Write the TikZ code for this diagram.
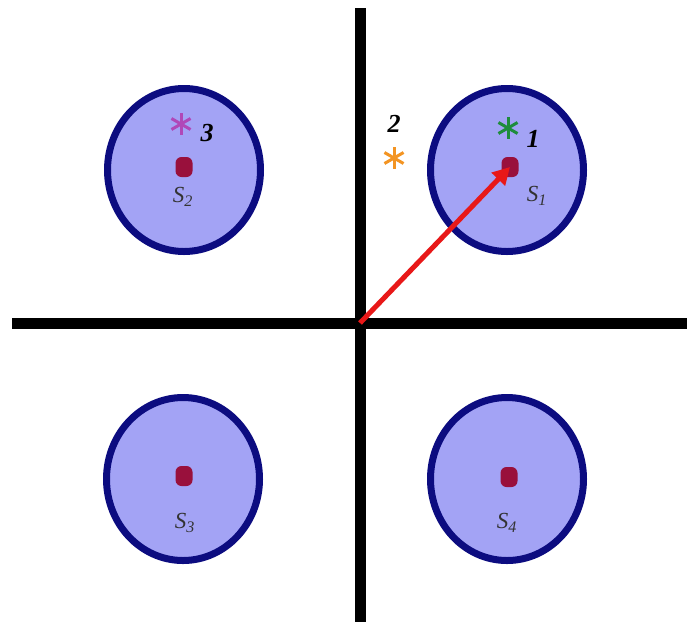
\documentclass[tikz,border=0pt]{standalone}
\usepackage{fontspec}
\setmainfont{Liberation Serif}
\usetikzlibrary{shapes.geometric,arrows.meta}
\definecolor{fillblue}{HTML}{A3A3F5}
\definecolor{rimblue}{HTML}{0C0C80}
\definecolor{dotred}{HTML}{99103C}
\definecolor{arrred}{HTML}{E81818}
\definecolor{stgreen}{HTML}{1E8C3C}
\definecolor{stmag}{HTML}{B048B8}
\definecolor{storange}{HTML}{F39422}
\tikzset{
  disc/.style={ellipse,draw=rimblue,fill=fillblue,line width=7pt,minimum width=153pt,minimum height=163pt,inner sep=0pt},
  sdot/.style={rectangle,rounded corners=6pt,fill=dotred,minimum width=17pt,minimum height=20pt,inner sep=0pt},
  slabel/.style={text=black!80,font=\fontsize{23}{23}\selectfont\itshape,inner sep=0pt},
  numlabel/.style={font=\fontsize{26}{26}\selectfont\bfseries\itshape,inner sep=0pt},
  axis/.style={line width=11pt,black},
  astk/.pic={\foreach \a in {90,30,-30}{\draw[line width=3pt,pic actions] (\a:11pt) -- (\a+180:11pt);}}
}
\begin{document}
\begin{tikzpicture}[x=1pt,y=-1pt]
\useasboundingbox[fill=white] (0,0) rectangle (687,622);
% axes
\coordinate (top) at (360,8);
\coordinate (bot) at (360,622);
\coordinate (lft) at (12,323);
\coordinate (rgt) at (687,323);
\coordinate (o) at (360,323);
\draw[axis] (top) -- (bot);
\draw[axis] (lft) -- (rgt);
% discs
\node[disc] (c1) at (507,170) {};
\node[disc] (c2) at (184,170) {};
\node[disc] (c3) at (183,479) {};
\node[disc] (c4) at (507,479) {};
% dots
\node[sdot] (d1) at (510,167) {};
\node[sdot] (d2) at (184,167) {};
\node[sdot] (d3) at (184,476) {};
\node[sdot] (d4) at (509,477) {};
% labels
\node[slabel] (l1) at (537,196) {S\textsubscript{1}};
\node[slabel] (l2) at (183,197) {S\textsubscript{2}};
\node[slabel] (l3) at (185,523) {S\textsubscript{3}};
\node[slabel] (l4) at (507,523) {S\textsubscript{4}};
% asterisks and numbers
\pic[draw=stgreen] at (508,128) {astk};
\pic[draw=stmag] at (181,124) {astk};
\pic[draw=storange] at (394,158) {astk};
\node[numlabel] (n1) at (533,139) {1};
\node[numlabel] (n2) at (394,124) {2};
\node[numlabel] (n3) at (207,133) {3};
% arrow
\draw[arrred,line width=5pt,-{Triangle[length=17pt,width=18pt]}] (o) -- (d1.center);
\end{tikzpicture}
\end{document}
